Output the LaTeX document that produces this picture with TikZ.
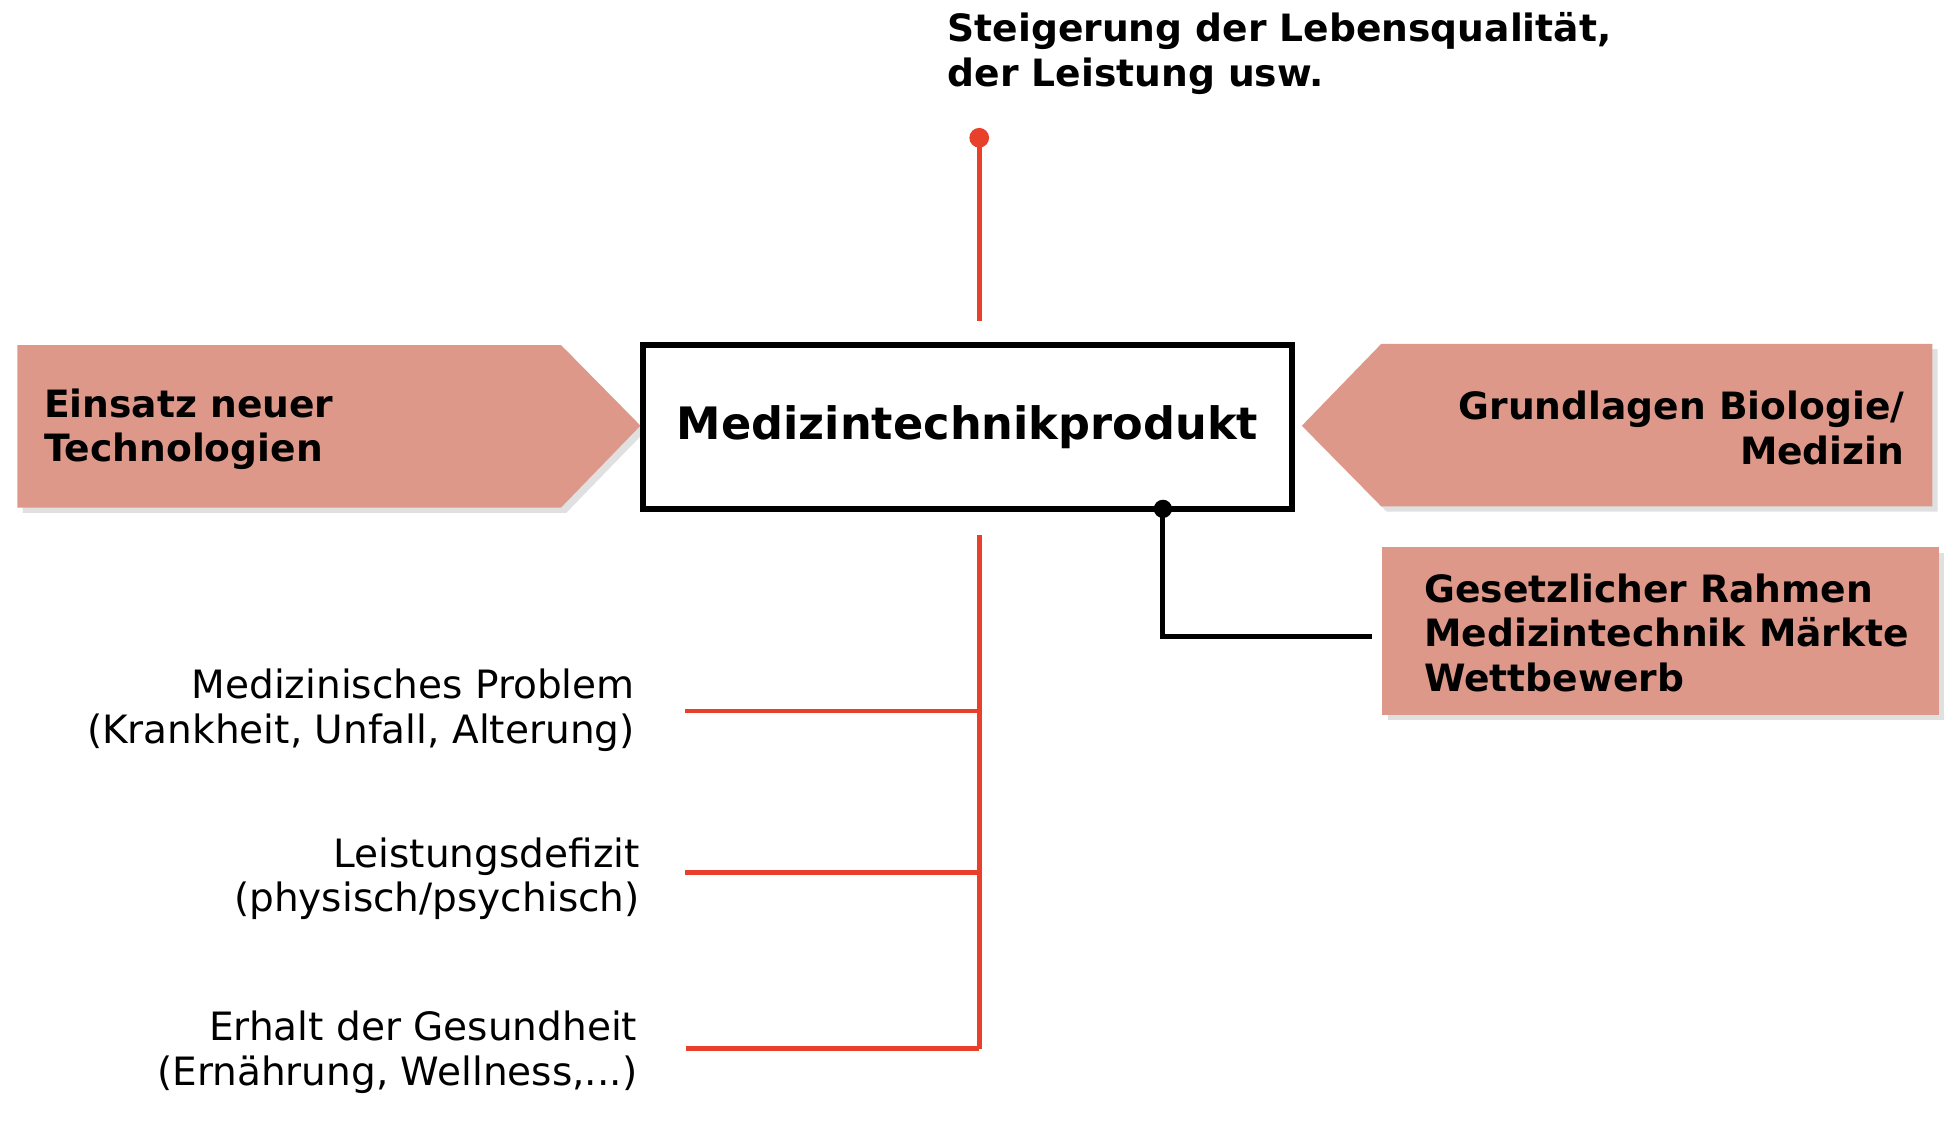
\documentclass[tikz,border=0pt]{standalone}
\usepackage{fontspec}
\setmainfont{DejaVu Sans}
\usepackage{tikz}
\usetikzlibrary{positioning,calc,shadows}
\definecolor{salmon}{HTML}{DE9889}
\definecolor{signalred}{HTML}{E8402A}

\tikzset{
  boldtext/.style={font=\fontsize{10.7}{12.7}\selectfont\bfseries, inner sep=0pt},
  plaintext/.style={font=\fontsize{11.1}{12.7}\selectfont, inner sep=0pt, align=right, anchor=east},
  softshadow/.style={drop shadow={shadow xshift=1.5pt, shadow yshift=-1.5pt, opacity=0.2, fill=black!60}},
  redline/.style={draw=signalred, line width=1.3pt},
}

\begin{document}
\begin{tikzpicture}[x=0.01241cm, y=-0.01241cm]
  \useasboundingbox (0,0) rectangle (1568,914);

  % the two inputs
  \fill[salmon, softshadow] (14,278) -- (452,278) -- (516,343) -- (452,409) -- (14,409) -- cycle;
  \fill[salmon, softshadow] (1557,277) -- (1113,277) -- (1049,343) -- (1113,408) -- (1557,408) -- cycle;
  \node[boldtext, anchor=west, align=left] (tech) at (35,346) {Einsatz neuer\\Technologien};
  \node[boldtext, anchor=east, align=right] (bio) at (1535,345) {Grundlagen Biologie/\\Medizin};

  % the product
  \node[draw, line width=1.7pt, minimum width=6.49cm, minimum height=1.638cm, inner sep=0pt,
        font=\fontsize{12.7}{15}\selectfont\bfseries] (prod) at (779.5,344) {Medizintechnikprodukt};

  % frame conditions
  \node[fill=salmon, softshadow, minimum width=5.56cm, minimum height=1.675cm, inner sep=0pt] (markt) at (1338,508.5) {};
  \node[boldtext, anchor=west, align=left] (markttext) at (1147,510)
        {Gesetzlicher Rahmen\\Medizintechnik Märkte\\Wettbewerb};
  \coordinate (tap) at (937,410);
  \fill (tap) circle (2.6pt);
  \draw[line width=1.4pt, shorten >=0.1cm] (tap) |- ($(markt.west)+(0,4.5)$);

  % goal
  \node[boldtext, anchor=west, align=left] (goal) at (763,43)
        {Steigerung der Lebensqualität,\\der Leistung usw.};
  \coordinate (goaldot) at (789,111);
  \coordinate (goalend) at (789,259);
  \fill[signalred] (goaldot) circle (2.8pt);
  \draw[redline] (goaldot) -- (goalend);

  % needs
  \node[plaintext] (prob) at (512,572) {Medizinisches Problem\\(Krankheit, Unfall, Alterung)};
  \node[plaintext] (defizit) at (516,708) {Leistungsdefizit\\(physisch/psychisch)};
  \node[plaintext] (gesund) at (514,848) {Erhalt der Gesundheit\\(Ernährung, Wellness,...)};
  \coordinate (trunktop) at (789,431);
  \coordinate (trunkbot) at (789,845);
  \draw[redline] (trunktop) -- (trunkbot);
  \draw[redline, shorten <=0.5cm] ($(prob.east)+(0,1)$) -- ($(prob.east -| trunktop)+(0,1)$);
  \draw[redline, shorten <=0.45cm] ($(defizit.east)+(0,-5)$) -- ($(defizit.east -| trunktop)+(0,-5)$);
  \draw[redline, shorten <=0.48cm] ($(gesund.east)+(0,-3)$) -- (trunkbot);
\end{tikzpicture}
\end{document}
